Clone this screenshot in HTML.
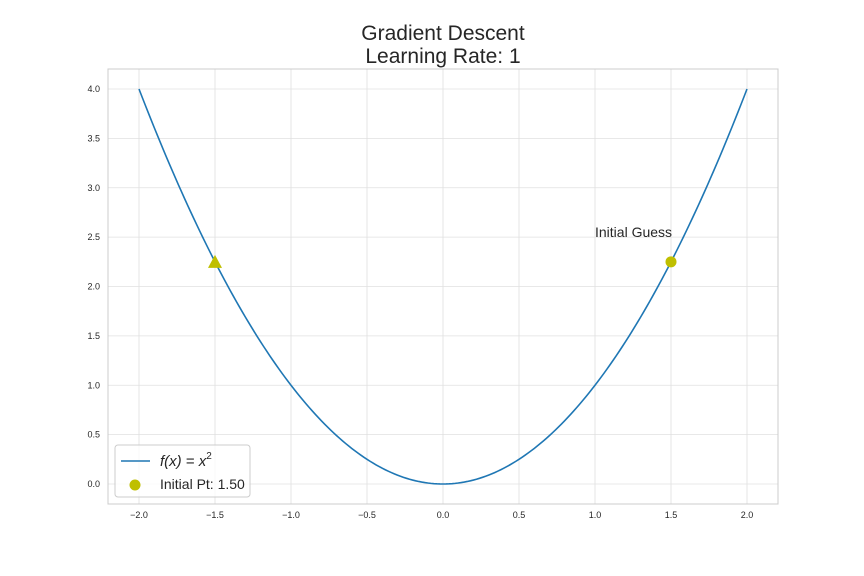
<!DOCTYPE html>
<html><head><meta charset="utf-8"><style>
body{margin:0;background:#fff;}
svg{display:block;font-family:"Liberation Sans",sans-serif;}
</style></head><body>
<svg id="chart" width="864" height="576" viewBox="0 0 864 576">
<rect width="864" height="576" fill="#fff"/>
<text x="443" y="40" font-size="21" text-anchor="middle" fill="#262626">Gradient Descent</text>
<text x="443" y="63" font-size="21" text-anchor="middle" fill="#262626">Learning Rate: 1</text>
<g id="grid"></g>
<rect x="108" y="69" width="670" height="435" fill="none" stroke="#ccc" stroke-width="1"/>
<g id="marks"></g>
<g>
<rect x="115" y="445" width="135" height="52" rx="3" fill="#fff" fill-opacity="0.8" stroke="#ccc"/>
<line x1="121" y1="461" x2="150" y2="461" stroke="#1f77b4" stroke-width="1.6"/>
<text x="160" y="466" font-size="15" fill="#262626" font-style="italic">f(x) <tspan font-style="normal">=</tspan> x<tspan dy="-7" font-size="10" font-style="normal">2</tspan></text>
<circle cx="135" cy="485" r="5.5" fill="#bfbf00"/>
<text x="160" y="489" font-size="14" fill="#262626">Initial Pt: 1.50</text>
</g>
</svg>
<script>
const xTicks=[-2.0,-1.5,-1.0,-0.5,0.0,0.5,1.0,1.5,2.0];
const yTicks=[0.0,0.5,1.0,1.5,2.0,2.5,3.0,3.5,4.0];
const curveX=[];for(let i=0;i<=200;i++)curveX.push(-2+i*0.02);
const initialPt=[1.5];
const nextPt=[-1.5];
const ns="http://www.w3.org/2000/svg";
const X=v=>443+v*152, Y=v=>484-v*98.75;
const f=x=>x*x;
function mk(t,a,p){const e=document.createElementNS(ns,t);for(const k in a)e.setAttribute(k,a[k]);p.appendChild(e);return e;}
const g=document.getElementById('grid'),m=document.getElementById('marks');
xTicks.forEach(v=>{
 const l=mk('line',{x1:X(v),x2:X(v),y1:69,y2:504,stroke:'#e0e0e0','stroke-width':0.8},g);
 
 
 const t=mk('text',{x:X(v),y:518,'font-size':9,'text-anchor':'middle',fill:'#262626'},g);
 t.textContent=(v<0?'\u2212':'')+Math.abs(v).toFixed(1);
 
 
});
yTicks.forEach(v=>{
 const l=mk('line',{x1:108,x2:778,y1:Y(v),y2:Y(v),stroke:'#e0e0e0','stroke-width':0.8},g);
 
 
 const t=mk('text',{x:100,y:Y(v)+3,'font-size':9,'text-anchor':'end',fill:'#262626'},g);
 t.textContent=v.toFixed(1);
 
 
});
const p=mk('path',{d:curveX.map((x,i)=>(i?'L':'M')+X(x).toFixed(2)+','+Y(f(x)).toFixed(2)).join(''),fill:'none',stroke:'#1f77b4','stroke-width':1.6},m);


initialPt.forEach(x=>{
 const c=mk('circle',{cx:X(x),cy:Y(f(x)),r:5.5,fill:'#bfbf00'},m);
 
 
 const t=mk('text',{x:X(x)-76,y:Y(f(x))-25,'font-size':14,fill:'#262626'},m);
 t.textContent='Initial Guess';
 
 
});
nextPt.forEach(x=>{
 const cx=X(x),cy=Y(f(x));
 const tr=mk('polygon',{points:`${cx},${cy-7} ${cx-7},${cy+6} ${cx+7},${cy+6}`,fill:'#bfbf00'},m);
 
 
});
</script>
</body></html>
